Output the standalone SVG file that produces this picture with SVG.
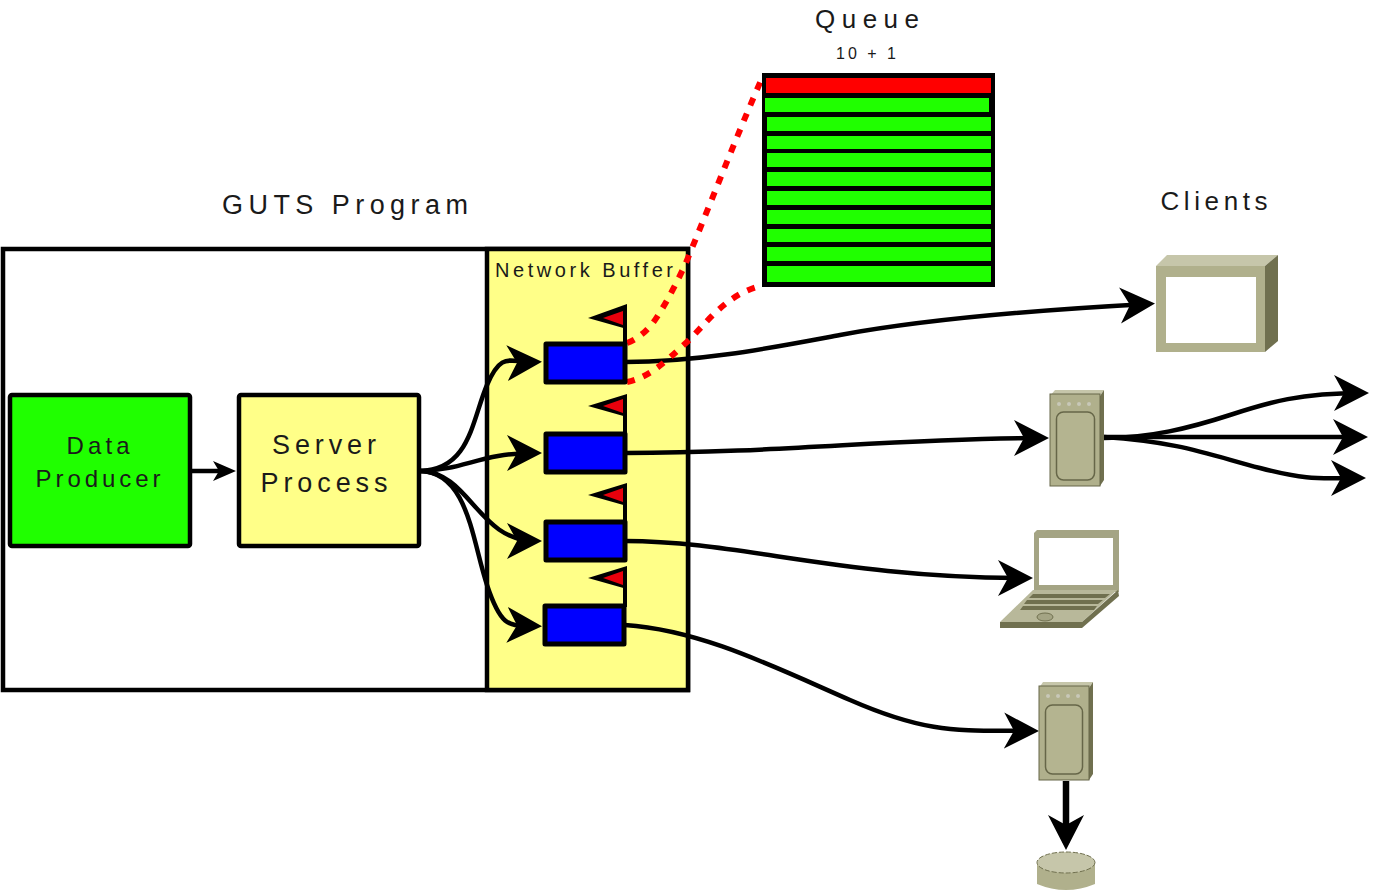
<svg xmlns="http://www.w3.org/2000/svg" width="1375" height="892" viewBox="0 0 1375 892">
<style>
text{font-family:"Liberation Sans",Arial,sans-serif;fill:#1a1a1a;text-anchor:middle}
.c{fill:none;stroke:#000;stroke-width:4.500}
.d{fill:none;stroke:#f00;stroke-width:6;stroke-dasharray:8 9}
.buf{fill:#00f;stroke:#000;stroke-width:5;stroke-linejoin:round}
.box{stroke:#000;stroke-width:4.500}
.pole{fill:none;stroke:#000;stroke-width:4}
.flagb{fill:#000}
.flagr{fill:#e8000c}
.green{fill:#20ff00}
.tan{fill:#b0b08c}
.dark{fill:#70704f}
.light{fill:#c6c6aa}
</style>
<defs>
<marker id="a" markerUnits="userSpaceOnUse" markerWidth="36" markerHeight="38" refX="28" refY="19" orient="auto"><path d="M0 1L35 19L0 37L10 19Z" fill="#000"/></marker>
<marker id="s" markerUnits="userSpaceOnUse" markerWidth="26" markerHeight="26" refX="18" refY="13" orient="auto"><path d="M2 3L25 13L2 23L8 13Z" fill="#000"/></marker>
</defs>
<g id="guts-program"><rect class="box" x="3" y="249" width="685" height="441" fill="#fff"/><text x="345" y="214" font-size="27" textLength="246">GUTS Program</text></g>
<g id="network-buffer"><rect class="box" x="487" y="249" width="201" height="441" fill="#ffff88"/><text x="584" y="277" font-size="20" textLength="178">Network Buffer</text></g>
<g id="data-producer"><rect class="box" x="10" y="395" width="180" height="151" rx="2" fill="#20ff00"/><text x="98" y="454" font-size="24" textLength="63">Data</text><text x="98" y="487" font-size="24" textLength="125">Producer</text></g>
<g id="server-process"><rect class="box" x="239" y="395" width="180" height="151" rx="2" fill="#ffff88"/><text x="324" y="454" font-size="27" textLength="104">Server</text><text x="324" y="492" font-size="27" textLength="127">Process</text></g>
<g id="connectors">
<path class="c" d="M190 471H229" marker-end="url(#s)"/>
<path class="c" d="M420 471C470 470 472 420 487 385S510 363 535 362" marker-end="url(#a)"/>
<path class="c" d="M420 471C465 470 480 453 535 453" marker-end="url(#a)"/>
<path class="c" d="M420 471C470 472 478 541 535 541" marker-end="url(#a)"/>
<path class="c" d="M420 471C468 472 472 540 487 585S510 625 535 626" marker-end="url(#a)"/>
<path class="c" d="M625 362C700 362 770 348 840 335S1000 312 1148 304" marker-end="url(#a)"/>
<path class="c" d="M625 453C780 453 900 438 1042 438" marker-end="url(#a)"/>
<path class="c" d="M625 541C740 541 840 578 1026 578" marker-end="url(#a)"/>
<path class="c" d="M625 625C700 630 770 665 850 700S960 730 1032 731" marker-end="url(#a)"/>
<path class="c" d="M1104 438C1150 438 1190 428 1230 415S1300 393 1362 393" marker-end="url(#a)"/>
<path class="c" d="M1104 437H1361" marker-end="url(#a)"/>
<path class="c" d="M1104 437C1180 442 1210 455 1260 468S1320 478 1359 478" marker-end="url(#a)"/>
<path class="c" style="stroke-width:6.500" d="M1066 781V843" marker-end="url(#a)"/>
<path class="d" d="M627 343C640 338 650 328 657 317C668 300 677 282 685 265C712 200 735 140 762 78"/>
<path class="d" d="M627 382C650 377 665 362 687 342C705 325 725 295 760 286"/>
</g>
<g id="buffer-1"><path class="pole" d="M625 345V310"/><path class="flagb" d="M588 318L627 304V329Z"/><path class="flagr" d="M603 318L623 311V325Z"/><rect class="buf" x="546" y="344" width="79" height="38"/></g>
<g id="buffer-2"><path class="pole" d="M625 435V400"/><path class="flagb" d="M588 406L627 394V417Z"/><path class="flagr" d="M603 406L623 399V413Z"/><rect class="buf" x="546" y="434" width="79" height="38"/></g>
<g id="buffer-3"><path class="pole" d="M625 523V490"/><path class="flagb" d="M588 495L627 483V506Z"/><path class="flagr" d="M603 495L623 488V502Z"/><rect class="buf" x="546" y="522" width="79" height="38"/></g>
<g id="buffer-4"><path class="pole" d="M625 607V573"/><path class="flagb" d="M588 578L627 566V589Z"/><path class="flagr" d="M603 578L623 571V585Z"/><rect class="buf" x="545" y="606" width="79" height="38"/></g>
<g id="queue">
<text x="867" y="28" font-size="26" textLength="104">Queue</text>
<text x="866" y="59" font-size="16" textLength="60">10 + 1</text>
<rect x="762" y="73" width="233" height="214" fill="#000"/>
<rect x="766" y="78" width="225" height="15" fill="#f00"/>
<rect class="green" x="765" y="98" width="224" height="14"/>
<rect class="green" x="767" y="117" width="224" height="14"/>
<rect class="green" x="767" y="136" width="224" height="13"/>
<rect class="green" x="767" y="153" width="224" height="14"/>
<rect class="green" x="767" y="172" width="224" height="14"/>
<rect class="green" x="767" y="191" width="224" height="14"/>
<rect class="green" x="767" y="210" width="224" height="14"/>
<rect class="green" x="767" y="229" width="224" height="13"/>
<rect class="green" x="767" y="247" width="224" height="14"/>
<rect class="green" x="767" y="266" width="224" height="16"/>
</g>
<g id="clients-label"><text x="1214" y="210" font-size="26" textLength="107">Clients</text></g>
<g id="monitor">
<path class="light" d="M1156 266L1167 255H1278L1265 266Z"/><path class="dark" d="M1265 266L1278 255V341L1265 352Z"/>
<rect class="tan" x="1156" y="266" width="109" height="86"/><rect x="1166" y="277" width="90" height="66" fill="#fff"/>
</g>
<g id="server-a">
<path class="light" d="M1050 396L1055 390H1104L1100 396Z"/><path class="dark" d="M1100 396L1104 390V480L1100 486Z"/>
<rect class="tan" x="1050" y="394" width="50" height="92" stroke="#666648" stroke-width="1"/>
<rect x="1056.500" y="412" width="38" height="68" rx="7" fill="#b4b490" stroke="#666648" stroke-width="1.500"/>
<g fill="#c8c8b8"><circle cx="1059" cy="404" r="2"/><circle cx="1069" cy="404" r="2"/><circle cx="1079" cy="404" r="2"/><circle cx="1089" cy="404" r="2"/></g>
</g>
<g id="laptop">
<path d="M1034 533L1037 530H1119V592H1034Z" fill="#a4a484"/>
<rect x="1039" y="538" width="74" height="47" fill="#fff"/>
<path d="M1033 590H1117L1082 622H1000Z" fill="#b8b89a"/>
<path class="dark" d="M1000 622H1082L1118 590L1119 596L1082 628H1000Z"/>
<path class="dark" d="M1033 594H1110L1105 598H1029ZM1027 600H1103L1098 604H1024ZM1023 606H1097L1094 610H1020Z"/>
<ellipse cx="1045" cy="617" rx="8" ry="4" fill="#a4a484" stroke="#70704f" stroke-width="1"/>
</g>
<g id="server-b">
<path class="light" d="M1039 688L1043 682H1093L1089 688Z"/><path class="dark" d="M1089 688L1093 682V774L1089 780Z"/>
<rect class="tan" x="1039" y="686" width="50" height="94" stroke="#666648" stroke-width="1"/>
<rect x="1045.500" y="705" width="37" height="69" rx="7" fill="#b4b490" stroke="#666648" stroke-width="1.500"/>
<g fill="#c8c8b8"><circle cx="1048" cy="696" r="2"/><circle cx="1058" cy="696" r="2"/><circle cx="1068" cy="696" r="2"/><circle cx="1078" cy="696" r="2"/></g>
</g>
<g id="disk">
<path class="tan" d="M1037 862V884Q1066 896 1095 884V862Z"/>
<ellipse class="light" cx="1066" cy="862.500" rx="29" ry="10.500" stroke="#70704f" stroke-width="1" stroke-dasharray="5 2"/>
</g>
</svg>
